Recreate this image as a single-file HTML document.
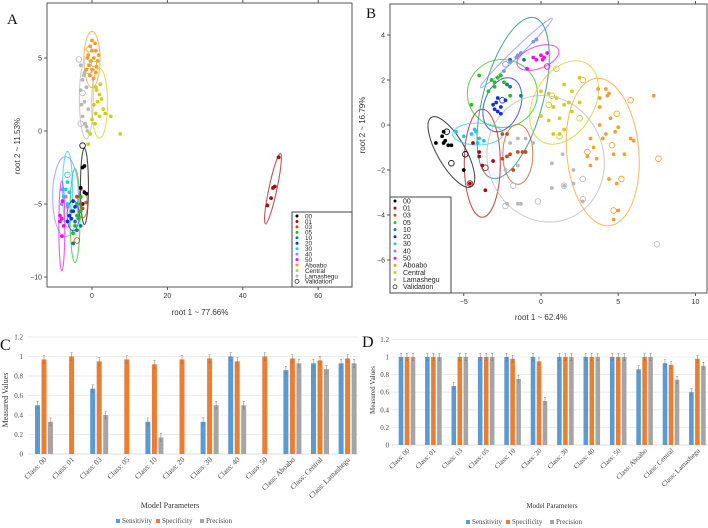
<!DOCTYPE html>
<html><head><meta charset="utf-8"><style>
body{margin:0;background:#fff;}
svg{display:block;}
</style></head><body>
<svg id="fig" width="708" height="528" viewBox="0 0 708 528" xmlns="http://www.w3.org/2000/svg" font-family="Liberation Sans, sans-serif"></svg>
<script>
// ---------- class metadata ----------
const classNames = ["00","01","03","05","10","20","30","40","50","Aboabo","Central","Lamashegu"];
const classColors = ["#000000","#a01010","#c0501a","#22c020","#137f80","#1030e0","#20c8f0","#8090ff","#f010e0","#f0a030","#d0cc20","#b8b8b8"];

// ---------- Panel A data (root1, root2) ----------
const aPoints = [
 [[-2.5,-2.5],[-2,-2.4],[-3,-3.9],[-2,-4.2],[-1.5,-4.3],[-3,-4.5],[-2.5,-5]],
 [[46.5,-5.1],[47.5,-4.6],[48,-3.9],[48.5,-3.8],[49.5,-1.8]],
 [[-1.5,-4.9],[-3,-5],[-4,-4.5],[-2.5,-5.3]],
 [[-3,-4.5],[-4,-5],[-4.5,-6.5],[-3.5,-6],[-5,-7],[-3,-5.5],[-4,-5.8]],
 [[-4,-6.8],[-5,-7.7],[-4.5,-6.2],[-5.5,-5.5],[-3,-6.5]],
 [[-5,-5.5],[-6,-5.8],[-5.5,-6],[-4.5,-5.2],[-6.5,-6.2],[-5,-4.8]],
 [[-6.5,-3.5],[-7,-4],[-6,-4.2],[-7.5,-4.5],[-6.5,-5]],
 [[-8,-4],[-7,-4.5],[-6.5,-5.2],[-8,-5]],
 [[-8,-6],[-8.5,-5.8],[-7.5,-6.5],[-8,-7.2],[-7.8,-4.8],[-8.5,-6.2]],
 [[0,6.2],[-0.5,5.8],[1,5.5],[-1,5.2],[0.5,5],[1.5,4.8],[-0.8,4.5],[0.2,4.2],[1,4],[-1.2,5],[0.8,6],[-0.3,4.8],[1.8,5.2],[0.4,3.6],[-0.6,3.8],[1.2,4.4],[0,5.5],[-1.5,4.2]],
 [[1,3],[2,2.5],[3,1.5],[1.5,2],[0.5,1.8],[2.5,2.2],[5,1],[7.5,-0.2],[-1,-0.9],[-0.5,-0.2],[1,1.2],[2,1],[0.8,0.5],[3.5,1.2],[1.2,2.8],[0,0.8],[2.2,3.2]],
 [[-2,4],[-2.5,3.5],[-1.5,3],[-3,2.8],[-2,2],[-1,1.5],[-2.5,1],[-1.8,0.5],[-1.2,0],[-3,4.5],[-2.2,3.8],[-1.5,0.3],[-2.8,1.8]]
];
const aValid = [[9,-0.8,5.6],[9,0.5,4.6],[9,-1,4.1],[11,-3.5,4.9],[11,-2.5,2.6],[11,-3,0.5],[0,-2.5,-1],[2,-4,-7.5],[6,-6.5,-3]];
// ellipses: class, cx, cy (data), rx, ry (px), rotation deg
const aEll = [[1,48,-3.95,4,36,12],[9,0,4.9,8,28,0],[10,2,1.9,8,35,0],[11,-1.5,2.2,7,40,0],[0,-2,-3.8,4,38,0],[2,-2.5,-5,5,14,0],[3,-4.5,-5.8,5,47,0],[7,-7,-4.5,13,40,0],[6,-6.5,-4,5,38,0],[8,-8,-6.5,3,45,0],[5,-5,-5.8,6,15,0]];

// ---------- Panel B data ----------
const bPoints = [
 [[-6.8,-0.8],[-6.3,-0.3],[-6.4,-0.5],[-6.3,-0.8],[-6,-0.9],[-5.8,-0.9],[-6.2,-0.7],[-5,-2]],
 [[-4,-1.2],[-4,-1.4],[-3.1,-1.6],[-4.4,-0.8],[-4.6,-2.6],[-3.6,-2.9],[-3.8,-1.8]],
 [[-2.2,-0.4],[-2.5,-0.4],[-2,-1.3],[-1.5,-1.2],[-1.2,-1.2],[-2.2,-1.4],[-2.5,-1.5],[-1.8,-2],[-1,-1.2]],
 [[-4,2.2],[-3.2,2],[-3,1.9],[-2.8,2.1],[-2.6,2.2],[-3.4,1.5],[-2.4,1.9],[-2,1.3],[-3,1.7],[-4.5,0.9]],
 [[-2,1.7],[-1.3,1.3],[-1.1,2.9],[-2.2,1.8],[-2,2.9]],
 [[-3,0.7],[-2.8,0.6],[-2.6,0.8],[-3.1,0.9],[-2.8,1.2],[-2.3,1.1],[-2.6,0.5],[-2.9,1]],
 [[-5,-0.5],[-4.5,-0.4],[-4.2,-0.3],[-4,-0.6],[-3.7,-0.7],[-4.3,-0.2],[-5.5,-0.3],[-4.1,-0.8]],
 [[-2.4,2.4],[-2,2.8],[-1.6,3],[-1.3,3.2],[-0.5,3.7],[-0.3,3.8],[-1.5,3.1]],
 [[-0.5,3],[-0.3,2.9],[0,3.1],[0.2,3],[0.4,3.2],[-0.9,2.5],[0.1,2.9]],
 [[3.7,1.6],[4.2,1.6],[4.4,1.4],[3.8,1.2],[4.3,1.3],[7.3,1.3],[4.5,0.3],[3.8,0],[4.8,-0.3],[4.2,-0.4],[4,-0.6],[5.8,-0.6],[6,-0.7],[3.2,-0.6],[3.4,-1],[3.6,-1.5],[4.7,-1.3],[5.4,-1.3],[3,-1.4],[3.2,-1.8],[4.4,-2.4],[4.9,-2.6],[5,-3.8],[4.7,-4.2],[5,-0.1],[3.8,0.8]],
 [[0,1.5],[0.5,1.4],[1.5,1.8],[2.5,2.1],[2,1.5],[1,1.2],[1.5,0.9],[2,0.6],[0.8,0.8],[1.2,0.3],[0.5,0.2],[0,0.4],[1.5,-0.2],[0.8,-0.4],[1.2,-0.4],[2.5,1],[1.8,1]],
 [[-2,-0.8],[-1,-0.6],[-0.5,-0.8],[-1.5,-0.6],[-2.3,-2],[-1.5,-1.8],[1.4,-1.3],[1.5,-2.7],[2.1,-2.6],[2.7,-3.4],[-2.2,-3.5],[-1.3,-3.5],[-1.5,-3.5],[0.7,-1.7],[2.1,-2],[0.7,-2.8]]
];
const bValid = [[9,5.8,1.1],[9,7.6,-1.5],[9,4.9,0.5],[9,4.6,-0.9],[9,5.2,-2.4],[9,3,-1.2],[9,4.7,-3.8],[11,7.5,-5.3],[10,1,2.5],[10,0.7,1.3],[10,0.5,0.9],[10,1.2,-0.5],[10,2.5,0.3],[10,2.7,2],[11,-0.2,-3.4],[11,-2.3,-3.6],[11,-1.8,-2.7],[11,2.7,-2.4],[11,2.7,-3.3],[11,1.5,-2.7],[0,-5.8,-1.7],[0,-6.1,-0.3],[0,-4.9,-1.3],[1,-4.6,-2.6],[1,-3.6,-1.9],[7,-2.3,2.7],[8,0.4,2.6],[5,-2.5,1.1]];
const bEll = [[0,-5.8,-1.2,14,40,-30],[1,-3.8,-1.7,18,54,0],[2,-1.5,-1.3,15,30,0],[3,-2.5,1.4,35,34,0],[4,-1.8,1.2,30,83,15],[5,-2.5,0.9,18,28,20],[6,-4.1,-0.4,25,11,0],[7,-1.6,3.2,4,50,46],[8,-0.2,3,22,11,-20],[9,4,-1.2,36,74,-5],[10,1.5,1,30,45,30],[11,0.3,-1.5,58,64,-20]];

// ---------- Panel C / D bar data ----------
const barCats = ["Class: 00","Class: 01","Class: 03","Class: 05","Class: 10","Class: 20","Class: 30","Class: 40","Class: 50","Class: Aboabo","Class: Central","Class: Lamashegu"];
const cSens = [0.5,0,0.67,0,0.33,0,0.33,1,0,0.86,0.93,0.93];
const cSpec = [0.97,1,0.95,0.97,0.92,0.97,0.98,0.95,1,0.98,0.96,0.98];
const cPrec = [0.33,0,0.4,0,0.17,0,0.5,0.5,0,0.93,0.87,0.93];
const dSens = [1,1,0.67,1,1,1,1,1,1,0.86,0.93,0.6];
const dSpec = [1,1,1,1,0.98,0.95,1,1,1,1,0.91,0.98];
const dPrec = [1,1,1,1,0.75,0.5,1,1,1,1,0.74,0.9];
const yTicks = [0,0.2,0.4,0.6,0.8,1,1.2];
const yTickLabels = ["0","0.2","0.4","0.6","0.8","1","1.2"];
const seriesNames = ["Sensitivity","Specificity","Precision"];
const seriesColors = ["#5b9bd5","#ed7d31","#a5a5a5"];

const NS="http://www.w3.org/2000/svg";
const svg=document.getElementById('fig');
function mk(tag,attrs,parent,text){const e=document.createElementNS(NS,tag);for(const k in attrs)e.setAttribute(k,attrs[k]);if(text!==undefined)e.textContent=text;(parent||svg).appendChild(e);return e;}

// ---------- scatter panel ----------
function scatter(cfg){
 const g=mk('g',{});
 
 
 const sx=v=>cfg.x0px+(v-cfg.x0)*cfg.xs, sy=v=>cfg.y0px-(v-cfg.y0)*cfg.ys;
 cfg.ell.forEach(e=>{
  const el=mk('ellipse',{cx:sx(e[1]),cy:sy(e[2]),rx:e[3],ry:e[4],transform:`rotate(${e[5]} ${sx(e[1])} ${sy(e[2])})`,fill:'none',stroke:classColors[e[0]],'stroke-width':1.1,opacity:0.7},g);
  
  
 });
 cfg.pts.forEach((arr,ci)=>arr.forEach(p=>{
  const c=mk('circle',{cx:sx(p[0]),cy:sy(p[1]),r:1.9,fill:classColors[ci]},g);
  
  
 }));
 cfg.val.forEach(v=>{
  const c=mk('circle',{cx:sx(v[1]),cy:sy(v[2]),r:2.8,fill:'none',stroke:classColors[v[0]],'stroke-width':0.8},g);
  
  
 });
 const fr=mk('rect',{x:cfg.bx,y:cfg.by,width:cfg.bw,height:cfg.bh,fill:'none',stroke:'#555','stroke-width':1},g);
 
 
 cfg.xt.forEach(t=>{
  mk('line',{x1:sx(t),x2:sx(t),y1:cfg.by+cfg.bh,y2:cfg.by+cfg.bh+3,stroke:'#555'},g);
  mk('line',{x1:sx(t),x2:sx(t),y1:cfg.by,y2:cfg.by-3,stroke:'#555'},g);
  const l=mk('text',{x:sx(t),y:cfg.by+cfg.bh+11,'font-size':7,'text-anchor':'middle',fill:'#333'},g,(t<0?'\u2212'+(-t):''+t));
  
  
 });
 cfg.yt.forEach(t=>{
  mk('line',{x1:cfg.bx,x2:cfg.bx-3,y1:sy(t),y2:sy(t),stroke:'#555'},g);
  const l=mk('text',{x:cfg.bx-5,y:sy(t)+2.5,'font-size':7,'text-anchor':'end',fill:'#333'},g,(t<0?'\u2212'+(-t):''+t));
  
  
 });
 const lg=mk('g',{},g);
 
 
 mk('rect',{x:cfg.lx,y:cfg.ly,width:cfg.lw,height:cfg.lh,fill:'#fff',stroke:'#444'},lg);
 const names=classNames.concat(['Validation']);
 names.forEach((n,i)=>{
  const yy=cfg.ly+4+i*cfg.lstep;
  if(i<12) mk('circle',{cx:cfg.lx+5,cy:yy,r:1.5,fill:classColors[i]},lg);
  else mk('circle',{cx:cfg.lx+5,cy:yy,r:2,fill:'none',stroke:'#333','stroke-width':0.8},lg);
  const t=mk('text',{x:cfg.lx+13,y:yy+2.3,'font-size':cfg.lfs,fill:'#222'},lg,n);
  
  
 });
 const xt=mk('text',{x:cfg.xtx,y:cfg.xty,'font-size':8,'text-anchor':'middle',fill:'#333'},g,cfg.xtitle);
 
 
 const yt=mk('text',{x:0,y:0,'font-size':8,'text-anchor':'middle',fill:'#333',transform:`translate(${cfg.ytx},${cfg.yty}) rotate(-90)`},g,cfg.ytitle);
 
 
 const pl=mk('text',{x:cfg.plx,y:cfg.ply,'font-size':15,'font-family':'Liberation Serif, serif',fill:'#111'},g,cfg.letter);
 
 
}

scatter({name:'panel-a-scatter',pts:aPoints,val:aValid,ell:aEll,x0:0,x0px:92,xs:3.77,y0:0,y0px:131,ys:14.6,
 bx:47,by:3,bw:305,bh:284,xt:[0,20,40,60],yt:[5,0,-5,-10],
 lx:292,ly:212,lw:60,lh:75,lstep:5.45,lfs:6.3,xtitle:'root 1 ~ 77.66%',xtx:200,xty:315,ytitle:'root 2 ~ 11.53%',ytx:20,yty:146,letter:'A',plx:7,ply:24});
scatter({name:'panel-b-scatter',pts:bPoints,val:bValid,ell:bEll,x0:0,x0px:541,xs:15.45,y0:0,y0px:125,ys:22.5,
 bx:390,by:4,bw:317,bh:289,xt:[-5,0,5,10],yt:[4,2,0,-2,-4,-6],
 lx:390,ly:197,lw:61,lh:96,lstep:7.15,lfs:7,xtitle:'root 1 ~ 62.4%',xtx:541,xty:320,ytitle:'root 2 ~ 16.79%',ytx:365,yty:125,letter:'B',plx:366,ply:18});

// ---------- bar panels ----------
function bars(cfg){
 const g=mk('g',{});
 
 
 const sy=v=>cfg.y0px-v*cfg.ys;
 const gx=i=>cfg.gx0+i*cfg.gstep;
 yTicks.forEach((t,i)=>{
  if(i>0) mk('line',{x1:cfg.gl,x2:cfg.gr,y1:sy(t),y2:sy(t),stroke:'#e6e6e6','stroke-width':0.8},g);
  const l=mk('text',{x:cfg.tlx,y:sy(t)+2.5,'font-size':7,'text-anchor':'end','font-family':'Liberation Serif, serif',fill:'#444'},g,yTickLabels[i]);
  
  
 });
 mk('line',{x1:cfg.gl,x2:cfg.gr,y1:sy(0),y2:sy(0),stroke:'#d0d0d0','stroke-width':0.8},g);
 const series=[cfg.s,cfg.p,cfg.q];
 series.forEach((arr,si)=>arr.forEach((v,i)=>{
  const x=gx(i)+(si-1)*cfg.pitch-cfg.bw/2;
  if(v>0){
   const r=mk('rect',{x:x,y:sy(v),width:cfg.bw,height:sy(0)-sy(v),fill:seriesColors[si]},g);
   
   
   const cx=x+cfg.bw/2, e=0.04*cfg.ys;
   mk('path',{d:`M${cx},${sy(v)-e}V${sy(v)+e}M${cx-1},${sy(v)-e}H${cx+1}M${cx-1},${sy(v)+e}H${cx+1}`,stroke:'#777','stroke-width':0.5,fill:'none'},g);
  }
 }));
 barCats.forEach((c,i)=>{
  const x=gx(i)+3,y=sy(0)+6;
  const t=mk('text',{x:x,y:y,'font-size':cfg.fs,'text-anchor':'end','font-family':'Liberation Serif, serif',fill:'#444',transform:`rotate(-45 ${x} ${y})`},g,c);
  
  
 });
 const xt=mk('text',{x:cfg.xtx,y:cfg.xty,'font-size':cfg.tfs,'text-anchor':'middle','font-family':'Liberation Serif, serif',fill:'#333'},g,'Model Parameters');
 
 
 const yt=mk('text',{x:0,y:0,'font-size':cfg.tfs,'text-anchor':'middle','font-family':'Liberation Serif, serif',fill:'#333',transform:`translate(${cfg.ytx},${cfg.yty}) rotate(-90)`},g,'Measured Values');
 
 
 const lg=mk('g',{},g);
 
 
 let lx=cfg.lx;
 seriesNames.forEach((n,i)=>{
  mk('rect',{x:lx,y:cfg.ly-4,width:4,height:4,fill:seriesColors[i]},lg);
  const t=mk('text',{x:lx+6,y:cfg.ly,'font-size':7,'font-family':'Liberation Serif, serif',fill:'#444'},lg,n);
  
  
  lx+=cfg.lsp[i];
 });
 const pl=mk('text',{x:cfg.plx,y:cfg.ply,'font-size':16,'font-family':'Liberation Serif, serif',fill:'#111'},g,cfg.letter);
 
 
}
bars({name:'panel-c-bars',s:cSens,p:cSpec,q:cPrec,y0px:454,ys:97.5,gx0:44,gstep:27.6,pitch:6.5,bw:5,gl:28,gr:358,tlx:23,fs:7.5,tfs:8,
 xtx:170,xty:508,ytx:8,yty:400,lx:116,ly:523,lsp:[40,44,40],letter:'C',plx:0,ply:350});
bars({name:'panel-d-bars',s:dSens,p:dSpec,q:dPrec,y0px:445,ys:88,gx0:407,gstep:26.4,pitch:6,bw:4.6,gl:392,gr:708,tlx:389,fs:7,tfs:7,
 xtx:552,xty:508,ytx:375,yty:390,lx:466,ly:524,lsp:[40,44,40],letter:'D',plx:362,ply:347});
</script>
</body></html>
